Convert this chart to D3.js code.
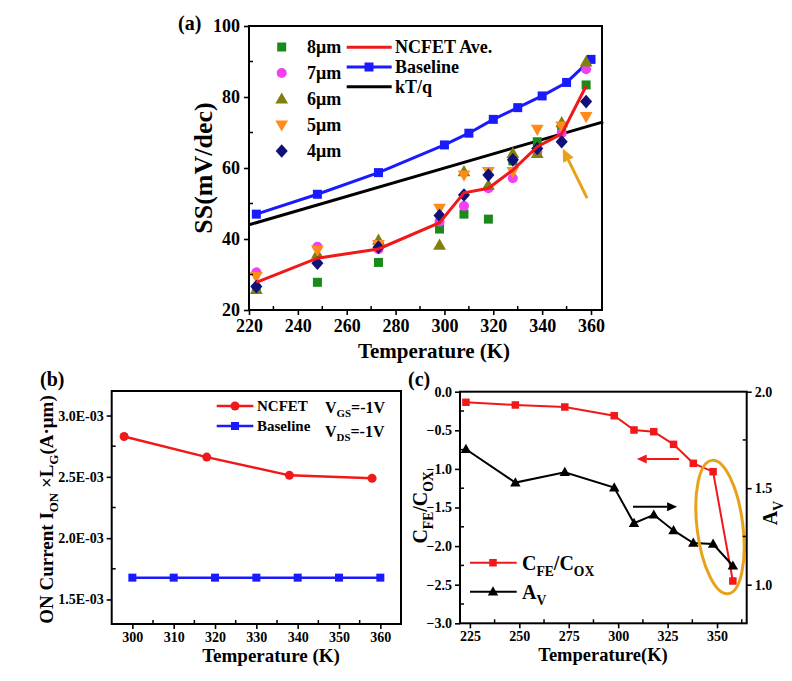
<!DOCTYPE html>
<html><head><meta charset="utf-8">
<script src="https://cdn.jsdelivr.net/npm/d3@7"></script>
<style>
body{margin:0;background:#fff}
text{font-family:"Liberation Serif","Times New Roman",serif;font-weight:bold;fill:#000}
</style>
</head><body><svg id="chart" width="792" height="681"></svg>
<script>
// ---------- Panel (a) data ----------
const tempA   = [223,248,273,298,308,318,328,338,348,358];
const ss8um   = [26.0,27.8,33.4,42.8,47.0,45.6,62.0,67.4,71.5,83.4];
const ss7um   = [30.6,37.8,37.1,44.9,49.3,54.3,57.1,64.5,69.8,87.8];
const ss6um   = [25.8,35.8,39.7,38.3,59.0,55.2,64.1,64.1,72.8,89.9];
const ss5um   = [29.4,36.9,38.4,48.6,58.0,59.0,59.0,70.9,71.8,74.5];
const ss4um   = [26.6,33.2,37.7,46.6,52.4,58.0,62.3,65.5,67.4,78.7];
const ssAve   = [27.8,34.6,37.2,44.6,53.0,54.3,59.4,66.0,69.6,83.1];
const tempBase= [223,248,273,300,310,320,330,340,350,360];
const ssBase  = [47.0,52.6,58.7,66.5,69.8,73.7,77.0,80.3,84.1,90.6];
const kTtemp  = [220,365];
const kTss    = [44.0,73.0];
const aXTicks = [220,240,260,280,300,320,340,360];
const aYTicks = [20,40,60,80,100];
const aLegendSizes = ["8μm","7μm","6μm","5μm","4μm"];
const arrowA  = [[358.4,51.5],[348.4,65.5]];

// ---------- Panel (b) data ----------
const tempB    = [298,318,338,358];
const ionNCFET = [2.829e-3,2.661e-3,2.512e-3,2.488e-3];
const tempBB   = [300,310,320,330,340,350,360];
const ionBase  = [1.678e-3,1.678e-3,1.678e-3,1.678e-3,1.678e-3,1.678e-3,1.678e-3];
const bXTicks  = [300,310,320,330,340,350,360];
const bYTicks  = [1.5e-3,2.0e-3,2.5e-3,3.0e-3];

// ---------- Panel (c) data ----------
const tempC  = [223,248,273,298,308,318,328,338,348,358];
const cfeRatio = [-0.137,-0.172,-0.198,-0.311,-0.496,-0.518,-0.682,-0.928,-1.036,-2.452];
const avGain   = [1.702,1.529,1.583,1.503,1.319,1.362,1.281,1.216,1.211,1.098];
const cXTicks  = [225,250,275,300,325,350];
const cYTicks  = [0,-0.5,-1.0,-1.5,-2.0,-2.5,-3.0];
const cY2Ticks = [1.0,1.5,2.0];
const arrowRed = [[330.8,-0.872],[309.4,-0.872]];
const arrowBlk = [[307.5,-1.49],[329.8,-1.49]];
const ellipseC = {t:351.5, v:-1.753, rt:11.6, rv:0.87};

const svg = d3.select("#chart");
const RED="#f01818", BLUE="#1a1aff", GREEN="#1b8a1b", PINK="#f23ff2", OLIVE="#808010", ORANGE="#ff8c1a", NAVY="#10107a", GOLD="#e8a21a";

function marker(g, type, x, y, s, fill){
  if(type==="square") g.append("rect").attr("x",x-s/2).attr("y",y-s/2).attr("width",s).attr("height",s).attr("fill",fill);
  else if(type==="circle") g.append("circle").attr("cx",x).attr("cy",y).attr("r",s/2).attr("fill",fill);
  else if(type==="tri") g.append("path").attr("d",`M${x},${y-s*0.6}L${x+s*0.58},${y+s*0.42}L${x-s*0.58},${y+s*0.42}Z`).attr("fill",fill);
  else if(type==="tridown") g.append("path").attr("d",`M${x},${y+s*0.6}L${x+s*0.58},${y-s*0.42}L${x-s*0.58},${y-s*0.42}Z`).attr("fill",fill);
  else if(type==="diamond") g.append("path").attr("d",`M${x},${y-s*0.62}L${x+s*0.55},${y}L${x},${y+s*0.62}L${x-s*0.55},${y}Z`).attr("fill",fill);
}
function frame(x0,x1,y0,y1){
  svg.append("rect").attr("x",x0).attr("y",y0).attr("width",x1-x0).attr("height",y1-y0)
    .attr("fill","none").attr("stroke","#000").attr("stroke-width",2);
}
function styleAxis(g,fs){
  g.attr("font-size",fs).attr("font-family",null);
  g.select(".domain").remove();
  g.selectAll("line").attr("stroke-width",1.6);
  g.selectAll("text").attr("font-size",fs);
}
function axisBottom(x, y0, ticks, minors, fs, fmt, pad){
  const g = svg.append("g").attr("transform",`translate(0,${y0})`);
  g.call(d3.axisBottom(x).tickValues(ticks).tickSize(5).tickPadding(pad).tickFormat(fmt));
  styleAxis(g,fs);
  minors.forEach(m=>svg.append("line").attr("x1",x(m)).attr("x2",x(m)).attr("y1",y0).attr("y2",y0-4).attr("stroke","#000").attr("stroke-width",1.5));
}
function axisLeft(y, x0, ticks, minors, fs, fmt, pad){
  const g = svg.append("g").attr("transform",`translate(${x0},0)`);
  g.call(d3.axisLeft(y).tickValues(ticks).tickSize(5).tickPadding(pad).tickFormat(fmt));
  styleAxis(g,fs);
  minors.forEach(m=>svg.append("line").attr("x1",x0).attr("x2",x0+4).attr("y1",y(m)).attr("y2",y(m)).attr("stroke","#000").attr("stroke-width",1.5));
}
function axisRight(y, x0, ticks, minors, fs, fmt, pad){
  const g = svg.append("g").attr("transform",`translate(${x0},0)`);
  g.call(d3.axisRight(y).tickValues(ticks).tickSize(5).tickPadding(pad).tickFormat(fmt));
  styleAxis(g,fs);
  minors.forEach(m=>svg.append("line").attr("x1",x0).attr("x2",x0-4).attr("y1",y(m)).attr("y2",y(m)).attr("stroke","#000").attr("stroke-width",1.5));
}
function arrow(p0,p1,color,w,head){
  const ang=Math.atan2(p1[1]-p0[1],p1[0]-p0[0]);
  const bx=p1[0]-head*Math.cos(ang), by=p1[1]-head*Math.sin(ang);
  svg.append("line").attr("x1",p0[0]).attr("y1",p0[1]).attr("x2",bx).attr("y2",by).attr("stroke",color).attr("stroke-width",w);
  const hw=head*0.45;
  svg.append("path").attr("d",`M${p1[0]},${p1[1]}L${bx-hw*Math.sin(ang)},${by+hw*Math.cos(ang)}L${bx+hw*Math.sin(ang)},${by-hw*Math.cos(ang)}Z`).attr("fill",color);
}
function subText(x,y,parts,fs,rot,anchor){
  const t = svg.append("text").attr("x",x).attr("y",y).attr("font-size",fs).attr("text-anchor",anchor||"start");
  if(rot) t.attr("transform",`rotate(${rot},${x},${y})`);
  const sh=fs*0.28; let inSub=false;
  parts.forEach(p=>{
    if(typeof p==="string"){
      const s=t.append("tspan").attr("font-size",fs).text(p);
      if(inSub) s.attr("dy",-sh);
      inSub=false;
    } else {
      const s=t.append("tspan").attr("font-size",fs*0.68).text(p.sub);
      if(!inSub) s.attr("dy",sh);
      inSub=true;
    }
  });
  return t;
}

// ================= Panel (a) =================
{
  const L=249,R=602,T=26,B=310;
  const x=d3.scaleLinear().domain([220,364.5]).range([L,R]);
  const y=d3.scaleLinear().domain([20,100]).range([B,T]);
  const g=svg.append("g");
  const line=d3.line().x(d=>x(d[0])).y(d=>y(d[1]));
  g.append("path").attr("d",line(d3.zip(tempBase,ssBase))).attr("fill","none").attr("stroke",BLUE).attr("stroke-width",3);
  tempBase.forEach((t,i)=>marker(g,"square",x(t),y(ssBase[i]),9,BLUE));
  g.append("path").attr("d",line(d3.zip(kTtemp,kTss))).attr("fill","none").attr("stroke","#000").attr("stroke-width",3);
  const series=[[ss8um,"square",GREEN,9],[ss7um,"circle",PINK,10],[ss6um,"tri",OLIVE,11],[ss5um,"tridown",ORANGE,11],[ss4um,"diamond",NAVY,11]];
  series.forEach(([vals,type,col,s])=>tempA.forEach((t,i)=>marker(g,type,x(t),y(vals[i]),s,col)));
  g.append("path").attr("d",line(d3.zip(tempA,ssAve))).attr("fill","none").attr("stroke",RED).attr("stroke-width",3);
  arrow([x(arrowA[0][0]),y(arrowA[0][1])],[x(arrowA[1][0]),y(arrowA[1][1])],GOLD,3,13);
  frame(L,R,T,B);
  axisBottom(x,B,aXTicks,[230,250,270,290,310,330,350],18,d3.format("d"),4);
  axisLeft(y,L,aYTicks,[30,50,70,90],18,d3.format("d"),4);
  series.forEach(([vals,type,col,s],i)=>{
    const yy=47+i*26;
    marker(svg,type,281.7,yy,s,col);
    svg.append("text").attr("x",307).attr("y",yy+6).attr("font-size",18).text(aLegendSizes[i]);
  });
  const leg2=[["NCFET Ave.",RED,false],["Baseline",BLUE,true],["kT/q","#000",false]];
  leg2.forEach(([lab,col,mk],i)=>{
    const yy=47.3+i*19.7;
    svg.append("line").attr("x1",346.7).attr("x2",391.7).attr("y1",yy).attr("y2",yy).attr("stroke",col).attr("stroke-width",3);
    if(mk) marker(svg,"square",369,yy,9,col);
    svg.append("text").attr("x",395).attr("y",yy+6).attr("font-size",18).text(lab);
  });
  svg.append("text").attr("x",178).attr("y",30).attr("font-size",20).attr("font-weight","normal").text("(a)");
  svg.append("text").attr("x",212).attr("y",(T+B)/2).attr("font-size",26).attr("text-anchor","middle")
    .attr("transform",`rotate(-90,212,${(T+B)/2})`).text("SS(mV/dec)");
  svg.append("text").attr("x",434).attr("y",358).attr("font-size",21).attr("text-anchor","middle").text("Temperature (K)");
}

// ================= Panel (b) =================
{
  const L=111.7,R=401,T=391,B=624;
  const x=d3.scaleLinear().domain([295,365]).range([L,R]);
  const y=d3.scaleLinear().domain([1.3e-3,3.2e-3]).range([B,T]);
  const g=svg.append("g");
  const line=d3.line().x(d=>x(d[0])).y(d=>y(d[1]));
  g.append("path").attr("d",line(d3.zip(tempB,ionNCFET))).attr("fill","none").attr("stroke",RED).attr("stroke-width",2.5);
  tempB.forEach((t,i)=>marker(g,"circle",x(t),y(ionNCFET[i]),9,RED));
  g.append("path").attr("d",line(d3.zip(tempBB,ionBase))).attr("fill","none").attr("stroke",BLUE).attr("stroke-width",2.5);
  tempBB.forEach((t,i)=>marker(g,"square",x(t),y(ionBase[i]),8,BLUE));
  frame(L,R,T,B);
  axisBottom(x,B,bXTicks,[305,315,325,335,345,355],14,d3.format("d"),3);
  axisLeft(y,L,bYTicks,[1.75e-3,2.25e-3,2.75e-3],14,d=>(d*1000).toFixed(1)+"E-03",3);
  [["NCFET",RED,"circle",9],["Baseline",BLUE,"square",8]].forEach(([lab,col,type,s],i)=>{
    const yy=406+i*20;
    svg.append("line").attr("x1",216.7).attr("x2",253.3).attr("y1",yy).attr("y2",yy).attr("stroke",col).attr("stroke-width",2.5);
    marker(svg,type,235,yy,s,col);
    svg.append("text").attr("x",257).attr("y",yy+5).attr("font-size",15).text(lab);
  });
  subText(325,413,["V",{sub:"GS"},"=-1V"],16);
  subText(325,437,["V",{sub:"DS"},"=-1V"],16);
  svg.append("text").attr("x",40).attr("y",386).attr("font-size",20).attr("font-weight","normal").text("(b)");
  subText(53,(T+B)/2+2,["ON Current I",{sub:"ON"}," ×L",{sub:"G"},"(A·μm)"],19,-90,"middle");
  svg.append("text").attr("x",271).attr("y",662).attr("font-size",19).attr("text-anchor","middle").text("Temperature (K)");
}

// ================= Panel (c) =================
{
  const L=460,R=746.7,T=391.7,B=623.3;
  const x=d3.scaleLinear().domain([220,365]).range([L,R]);
  const y=d3.scaleLinear().domain([-3,0]).range([B,T]);
  const y2=d3.scaleLinear().domain([0.8,2.0]).range([B,T]);
  const g=svg.append("g");
  g.append("path").attr("d",d3.line().x(d=>x(d[0])).y(d=>y(d[1]))(d3.zip(tempC,cfeRatio))).attr("fill","none").attr("stroke",RED).attr("stroke-width",2);
  tempC.forEach((t,i)=>marker(g,"square",x(t),y(cfeRatio[i]),7.5,RED));
  g.append("path").attr("d",d3.line().x(d=>x(d[0])).y(d=>y2(d[1]))(d3.zip(tempC,avGain))).attr("fill","none").attr("stroke","#000").attr("stroke-width",2);
  tempC.forEach((t,i)=>marker(g,"tri",x(t),y2(avGain[i]),9,"#000"));
  arrow([x(arrowRed[0][0]),y(arrowRed[0][1])],[x(arrowRed[1][0]),y(arrowRed[1][1])],RED,2,10);
  arrow([x(arrowBlk[0][0]),y(arrowBlk[0][1])],[x(arrowBlk[1][0]),y(arrowBlk[1][1])],"#000",2,10);
  const cx=x(ellipseC.t), cy=y(ellipseC.v);
  svg.append("ellipse").attr("cx",cx).attr("cy",cy).attr("rx",x(ellipseC.t+ellipseC.rt)-cx).attr("ry",y(ellipseC.v-ellipseC.rv)-cy)
    .attr("transform",`rotate(-7,${cx},${cy})`).attr("fill","none").attr("stroke",GOLD).attr("stroke-width",3);
  frame(L,R,T,B);
  axisBottom(x,B,cXTicks,[237.5,262.5,287.5,312.5,337.5,362.5],14,d3.format("d"),3);
  axisLeft(y,L,cYTicks,[-0.25,-0.75,-1.25,-1.75,-2.25,-2.75],14,d3.format(".1f"),3);
  axisRight(y2,R,cY2Ticks,[1.25,1.75],14,d3.format(".1f"),3);
  svg.append("line").attr("x1",470).attr("x2",516.7).attr("y1",562.7).attr("y2",562.7).attr("stroke",RED).attr("stroke-width",2);
  marker(svg,"square",493,562.7,7.5,RED);
  subText(522,570,["C",{sub:"FE"},"/C",{sub:"OX"}],20);
  svg.append("line").attr("x1",470).attr("x2",516.7).attr("y1",591.7).attr("y2",591.7).attr("stroke","#000").attr("stroke-width",2);
  marker(svg,"tri",493,591.7,9,"#000");
  subText(522,599,["A",{sub:"V"}],20);
  svg.append("text").attr("x",408).attr("y",386).attr("font-size",20).attr("font-weight","normal").text("(c)");
  subText(427,(T+B)/2,["C",{sub:"FE"},"/C",{sub:"OX"}],20,-90,"middle");
  subText(777,513,["A",{sub:"V"}],20,-90,"middle");
  svg.append("text").attr("x",603).attr("y",661).attr("font-size",18.5).attr("text-anchor","middle").text("Temperature(K)");
}
</script></body></html>
